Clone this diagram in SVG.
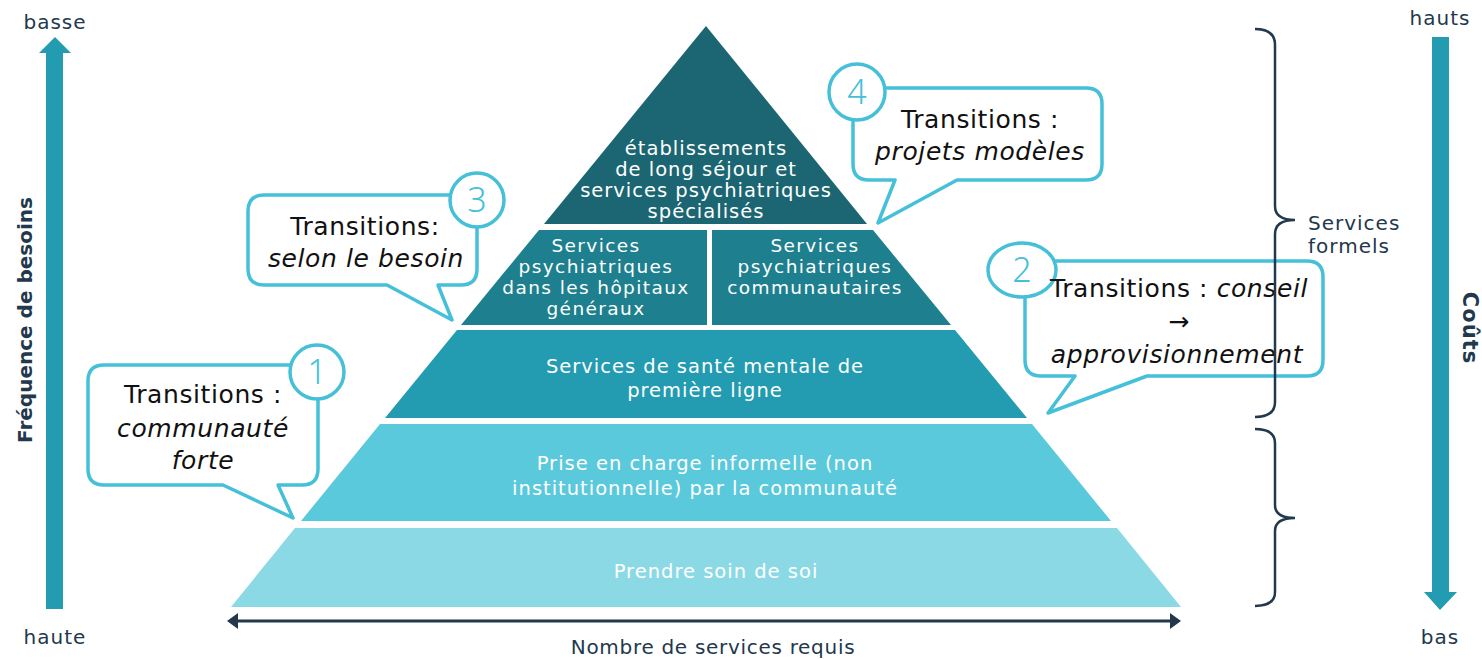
<svg xmlns="http://www.w3.org/2000/svg" width="1482" height="659" viewBox="0 0 1482 659">
<style>
text{font-family:"DejaVu Sans","Noto Sans",sans-serif}
.w{fill:#ffffff;font-size:19.5px;letter-spacing:1px;text-anchor:middle}
.t{font-size:18.5px;letter-spacing:1.4px}
.n{fill:#22384d;font-size:20px;letter-spacing:1px}
.c{fill:#111111;font-size:25px;letter-spacing:0.6px;text-anchor:middle}
.i{font-style:italic}
.bub{fill:#ffffff;stroke:#46c0d9;stroke-width:3.5;stroke-linejoin:round}
.num{fill:#46c0d9;font-size:34px;text-anchor:middle;font-family:"Noto Sans","DejaVu Sans",sans-serif;font-weight:300}
.br{fill:none;stroke:#22384d;stroke-width:2.5}
</style>
<rect width="1482" height="659" fill="#ffffff"/>

<g id="pyramid">
<g id="layer-top"><polygon points="706,26 867,224 544,224" fill="#1b6672"/>
<text class="w"><tspan x="706" y="155">établissements</tspan><tspan x="706" y="176">de long séjour et</tspan><tspan x="706" y="197">services psychiatriques</tspan><tspan x="706" y="218">spécialisés</tspan></text></g>
<g id="layer-hosp"><polygon points="539,230 707,230 707,325 461,325" fill="#1e7f8e"/>
<text class="w t"><tspan x="596" y="252">Services</tspan><tspan x="596" y="273">psychiatriques</tspan><tspan x="596" y="294">dans les hôpitaux</tspan><tspan x="596" y="315">généraux</tspan></text></g>
<g id="layer-comm"><polygon points="712,230 873,230 951,325 712,325" fill="#1e7f8e"/>
<text class="w t"><tspan x="815" y="252">Services</tspan><tspan x="815" y="273">psychiatriques</tspan><tspan x="815" y="294">communautaires</tspan></text></g>
<g id="layer-first"><polygon points="457,330 955,330 1027,418 385,418" fill="#239bb0"/>
<text class="w"><tspan x="705" y="373">Services de santé mentale de</tspan><tspan x="705" y="397">première ligne</tspan></text></g>
<g id="layer-informal"><polygon points="380,424 1032,424 1111,521 301,521" fill="#5bc9dc"/>
<text class="w"><tspan x="705" y="470">Prise en charge informelle (non</tspan><tspan x="705" y="495">institutionnelle) par la communauté</tspan></text></g>
<g id="layer-self"><polygon points="295,528 1117,528 1181,607 231,607" fill="#8cd9e6"/>
<text class="w" x="716" y="578">Prendre soin de soi</text></g>
</g>

<g id="callout-4">
<path class="bub" d="M869 88 H1086 Q1102 88 1102 104 V164 Q1102 180 1086 180 H957 L878 223 L895 180 H869 Q853 180 853 164 V104 Q853 88 869 88 Z"/>
<circle cx="857" cy="92" r="28" fill="#ffffff" stroke="#46c0d9" stroke-width="3.5"/>
<text class="num" x="857" y="104">4</text>
<text class="c" x="980" y="128">Transitions :</text>
<text class="c i" x="980" y="160">projets modèles</text>
</g>

<g id="callout-3">
<path class="bub" d="M264 195 H461 Q477 195 477 211 V269 Q477 285 461 285 H438 L452 320 L387 285 H264 Q248 285 248 269 V211 Q248 195 264 195 Z"/>
<circle cx="477" cy="200" r="27" fill="#ffffff" stroke="#46c0d9" stroke-width="3.5"/>
<text class="num" x="477" y="212">3</text>
<text class="c" x="365" y="235">Transitions:</text>
<text class="c i" x="366" y="267">selon le besoin</text>
</g>

<g id="callout-2">
<path class="bub" d="M1041 261 H1307 Q1323 261 1323 277 V360 Q1323 376 1307 376 H1147 L1048 413 L1075 376 H1041 Q1025 376 1025 360 V277 Q1025 261 1041 261 Z"/>
<ellipse cx="1022" cy="270" rx="34" ry="27" fill="#ffffff" stroke="#46c0d9" stroke-width="3.5"/>
<text class="num" x="1022" y="282">2</text>
<text class="c" x="1179" y="297">Transitions : <tspan class="i">conseil</tspan></text>
<text class="c" x="1179" y="330">→</text>
<text class="c i" x="1177" y="363">approvisionnement</text>
</g>

<g id="callout-1">
<path class="bub" d="M104 365 H302 Q318 365 318 381 V469 Q318 485 302 485 H278 L293 518 L223 485 H104 Q88 485 88 469 V381 Q88 365 104 365 Z"/>
<circle cx="317" cy="372" r="27" fill="#ffffff" stroke="#46c0d9" stroke-width="3.5"/>
<text class="num" x="317" y="384">1</text>
<text class="c" x="203" y="403">Transitions :</text>
<text class="c i" x="203" y="437">communauté</text>
<text class="c i" x="203" y="469">forte</text>
</g>

<g id="axis-frequency">
<rect x="46" y="52" width="17" height="557" fill="#239bb0"/>
<polygon points="39,53 71,53 55,37" fill="#239bb0"/>
<text class="n" x="55" y="29" text-anchor="middle">basse</text>
<text class="n" x="55" y="644" text-anchor="middle">haute</text>
<text class="n" transform="translate(32 320) rotate(-90)" text-anchor="middle" style="font-weight:bold;letter-spacing:0px">Fréquence de besoins</text>
</g>

<g id="axis-costs">
<rect x="1432" y="37" width="17" height="556" fill="#239bb0"/>
<polygon points="1424,592 1457,592 1440,610" fill="#239bb0"/>
<text class="n" x="1440" y="25" text-anchor="middle">hauts</text>
<text class="n" x="1440" y="644" text-anchor="middle">bas</text>
<text class="n" transform="translate(1463 328) rotate(90)" text-anchor="middle" style="font-weight:bold;font-size:21px">Coûts</text>
</g>

<g id="braces">
<path class="br" d="M1255 29 Q1275 29 1275 45 V206 Q1275 220 1295 220 Q1275 220 1275 234 V402 Q1275 417 1255 417"/>
<path class="br" d="M1255 429 Q1275 429 1275 443 V505 Q1275 518 1295 518 Q1275 518 1275 531 V592 Q1275 606 1255 606"/>
<text class="n"><tspan x="1308" y="230">Services</tspan><tspan x="1308" y="253">formels</tspan></text>
</g>

<g id="connectors">
<line x1="236" y1="621" x2="1172" y2="621" stroke="#22384d" stroke-width="3"/>
<polygon points="227,621 238,613 238,629" fill="#22384d"/>
<polygon points="1181,621 1170,613 1170,629" fill="#22384d"/>
<text class="n" x="713" y="654" text-anchor="middle" style="letter-spacing:0.7px">Nombre de services requis</text>
</g>
</svg>
